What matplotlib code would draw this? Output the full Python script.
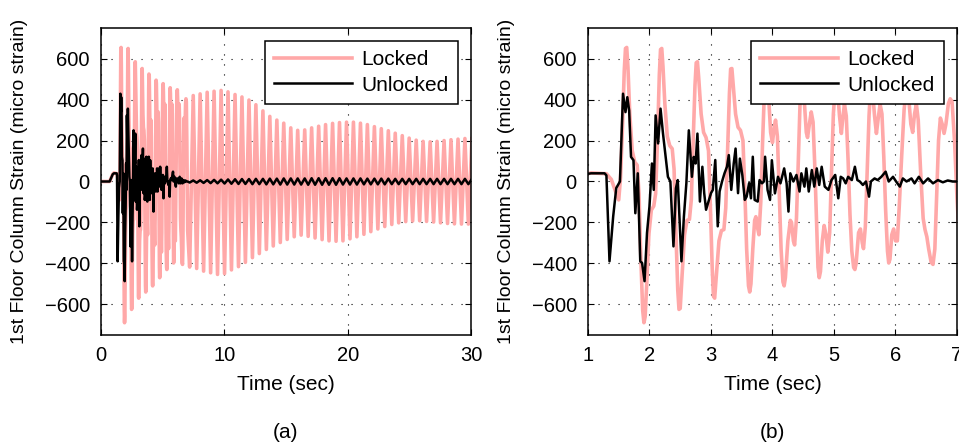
import numpy as np
import matplotlib
matplotlib.use("Agg")
from matplotlib import pyplot as plt

plt.rcParams['font.family'] = ['Liberation Sans', 'DejaVu Sans']

# locked response, detailed part: (time sec, micro strain)
locked_pts = [
    (0.0, 0), (0.7, 0), (0.95, 35), (1.05, 42), (1.30, 38), (1.38, 10), (1.45, -50),
    (1.50, -90), (1.53, 20), (1.56, 260), (1.59, 540), (1.61, 650), (1.63, 655),
    (1.65, 560), (1.68, 330), (1.72, 150), (1.76, 95), (1.80, 80), (1.83, -60),
    (1.86, -380), (1.89, -630), (1.91, -690), (1.93, -660), (1.96, -470), (1.99, -260),
    (2.03, -140), (2.07, -120), (2.10, -60), (2.13, 200), (2.16, 520), (2.18, 645),
    (2.20, 650), (2.22, 560), (2.25, 380), (2.29, 220), (2.33, 175), (2.37, 160),
    (2.40, 60), (2.43, -250), (2.46, -530), (2.48, -625), (2.50, -620), (2.53, -460),
    (2.57, -260), (2.61, -190), (2.65, -185), (2.68, -90), (2.71, 190), (2.74, 470),
    (2.76, 580), (2.78, 585), (2.80, 510), (2.84, 330), (2.88, 240), (2.92, 215),
    (2.96, 150), (2.99, -120), (3.02, -420), (3.04, -560), (3.06, -570), (3.09, -450),
    (3.13, -290), (3.17, -240), (3.21, -235), (3.24, -130), (3.27, 150), (3.30, 430),
    (3.32, 550), (3.34, 552), (3.36, 480), (3.40, 330), (3.44, 265), (3.48, 250),
    (3.52, 200), (3.55, -40), (3.58, -330), (3.61, -510), (3.63, -540), (3.65, -500),
    (3.68, -330), (3.71, -190), (3.73, -172), (3.76, -230), (3.78, -260), (3.81, -100),
    (3.84, 200), (3.87, 450), (3.89, 525), (3.91, 520), (3.94, 400), (3.97, 240),
    (4.00, 190), (4.03, 270), (4.05, 300), (4.08, 220), (4.11, -50), (4.14, -330),
    (4.17, -490), (4.19, -510), (4.21, -470), (4.25, -290), (4.29, -190), (4.31, -200),
    (4.34, -290), (4.36, -310), (4.39, -180), (4.42, 100), (4.45, 400), (4.47, 495),
    (4.49, 480), (4.52, 380), (4.55, 240), (4.57, 215), (4.60, 280), (4.63, 340),
    (4.66, 290), (4.69, 60), (4.72, -230), (4.74, -420), (4.76, -470), (4.78, -440),
    (4.81, -290), (4.84, -215), (4.87, -260), (4.90, -345), (4.93, -250), (4.96, 50),
    (4.99, 330), (5.02, 460), (5.04, 478), (5.06, 440), (5.09, 320), (5.12, 235),
    (5.14, 300), (5.17, 378), (5.20, 320), (5.23, 100), (5.26, -160), (5.29, -340),
    (5.32, -420), (5.34, -430), (5.36, -400), (5.40, -250), (5.43, -232), (5.46, -300),
    (5.48, -328), (5.51, -220), (5.54, 50), (5.57, 320), (5.59, 430), (5.61, 458),
    (5.63, 430), (5.66, 320), (5.69, 235), (5.72, 310), (5.75, 378), (5.78, 330),
    (5.81, 120), (5.84, -140), (5.87, -340), (5.89, -398), (5.91, -380), (5.94, -260),
    (5.97, -232), (6.00, -290), (6.03, -290), (6.06, -130), (6.10, 120), (6.14, 350),
    (6.17, 440), (6.19, 448), (6.22, 390), (6.25, 280), (6.28, 240), (6.31, 330),
    (6.34, 378), (6.37, 300), (6.41, 40), (6.45, -180), (6.48, -235), (6.51, -270),
    (6.54, -330), (6.58, -395), (6.61, -405), (6.64, -330), (6.67, -60), (6.70, 200),
    (6.73, 310), (6.76, 280), (6.79, 235), (6.82, 280), (6.86, 380), (6.89, 404),
    (6.92, 390), (6.96, 200), (7.00, -80), (7.03, -240),
]

# unlocked response, detailed part
unlocked_pts = [
    (0.0, 0), (0.7, 0), (0.95, 35), (1.05, 40), (1.27, 40), (1.30, 30), (1.35, -390),
    (1.41, -171), (1.46, -32), (1.52, 0), (1.57, 429), (1.61, 339), (1.64, 412),
    (1.67, 346), (1.70, 120), (1.74, 104), (1.77, -155), (1.81, 40), (1.85, -390),
    (1.88, -398), (1.92, -487), (1.96, -251), (2.00, -122), (2.04, 88), (2.07, -41),
    (2.10, 323), (2.14, 186), (2.18, 356), (2.22, 234), (2.30, 23), (2.34, 0),
    (2.39, -317), (2.43, -33), (2.46, 7), (2.52, -390), (2.56, -171), (2.60, -8),
    (2.64, 250), (2.69, 23), (2.72, 120), (2.75, 88), (2.78, 234), (2.82, -98),
    (2.86, 72), (2.89, -57), (2.92, -138), (2.96, -98), (3.00, -57), (3.03, -41),
    (3.07, 105), (3.11, -219), (3.14, -49), (3.18, 0), (3.22, 40), (3.26, 72),
    (3.29, 129), (3.33, -41), (3.37, 88), (3.40, 161), (3.44, -57), (3.47, 112),
    (3.51, 31), (3.55, -90), (3.58, -74), (3.62, -8), (3.65, -82), (3.68, 121),
    (3.71, -90), (3.76, -98), (3.79, 7), (3.83, -9), (3.86, 0), (3.88, 121),
    (3.92, -41), (3.96, -90), (3.99, 104), (4.04, -58), (4.09, 23), (4.13, -9),
    (4.19, 64), (4.23, -9), (4.26, -147), (4.29, 40), (4.34, 0), (4.39, 32),
    (4.44, -49), (4.47, 40), (4.52, -25), (4.55, 64), (4.59, -49), (4.64, 56),
    (4.68, -25), (4.72, 64), (4.76, -17), (4.80, 72), (4.85, -25), (4.91, -41),
    (4.96, 7), (5.02, 32), (5.07, -82), (5.11, 23), (5.15, 15), (5.19, -9),
    (5.23, 23), (5.29, 7), (5.34, 72), (5.38, 7), (5.42, 0), (5.47, -17),
    (5.52, 0), (5.57, -74), (5.60, 0), (5.66, 15), (5.71, 7), (5.77, 23),
    (5.84, 48), (5.89, 0), (5.96, 23), (6.01, 0), (6.07, -25), (6.12, 15),
    (6.18, 0), (6.26, 15), (6.31, -9), (6.38, 23), (6.45, -9), (6.53, 15),
    (6.61, -9), (6.69, 7), (6.77, -4), (6.85, 5), (6.93, 0), (7.02, 0),
]

# after 7 s: times of successive troughs / peaks
late_t = [
    7.19, 7.48, 7.76, 8.04, 8.32, 8.61, 8.89, 9.17, 9.45, 9.74,
    10.02, 10.30, 10.58, 10.87, 11.15, 11.43, 11.71, 12.00, 12.28, 12.56,
    12.84, 13.13, 13.41, 13.69, 13.97, 14.26, 14.54, 14.82, 15.10, 15.39,
    15.67, 15.95, 16.23, 16.52, 16.80, 17.08, 17.36, 17.65, 17.93, 18.21,
    18.49, 18.78, 19.06, 19.34, 19.62, 19.91, 20.19, 20.47, 20.75, 21.04,
    21.32, 21.60, 21.88, 22.17, 22.45, 22.73, 23.01, 23.30, 23.58, 23.86,
    24.14, 24.43, 24.71, 24.99, 25.27, 25.56, 25.84, 26.12, 26.40, 26.69,
    26.97, 27.25, 27.53, 27.82, 28.10, 28.38, 28.66, 28.95, 29.23, 29.51,
    29.79, 30.08,
]
locked_late = [
    -418, 420, -425, 428, -438, 436, -446, 441, -454, 445,
    -450, 438, -432, 425, -416, 413, -395, 398, -372, 375,
    -352, 345, -332, 318, -315, 300, -298, 285, -283, 262,
    -270, 250, -262, 252, -268, 262, -276, 270, -284, 278,
    -290, 284, -292, 288, -290, 290, -280, 290, -270, 285,
    -258, 278, -245, 268, -232, 258, -220, 248, -210, 236,
    -202, 224, -196, 212, -193, 202, -192, 196, -195, 194,
    -198, 196, -202, 200, -205, 204, -207, 207, -208, 210,
    -208, 210,
]
unlocked_late = [
    -5, 5, -6, 6, -7, 7, -8, 8, -9, 9,
    -10, 10, -11, 11, -12, 12, -12, 12, -13, 13,
    -13, 13, -14, 14, -14, 14, -15, 15, -15, 15,
    -15, 15, -15, 15, -16, 16, -16, 16, -16, 16,
    -16, 16, -16, 16, -15, 15, -15, 15, -15, 15,
    -14, 14, -14, 14, -14, 14, -14, 14, -13, 13,
    -13, 13, -13, 13, -13, 13, -13, 13, -13, 13,
    -13, 13, -13, 13, -13, 13, -13, 13, -13, 13,
    -13, 13,
]

lt, lv = np.array(locked_pts).T
ut, uv = np.array(unlocked_pts).T
t_locked = np.concatenate([lt, late_t])
v_locked = np.concatenate([lv, locked_late])
t_unlocked = np.concatenate([ut, late_t])
v_unlocked = np.concatenate([uv, unlocked_late])

pink = '#ffa8a8'
fs_tick = 14.5
fs_lab = 15

fig = plt.figure(figsize=(9.59, 4.46), dpi=100)
ax_a = fig.add_axes([0.1053, 0.2489, 0.3858, 0.6883])
ax_b = fig.add_axes([0.6131, 0.2489, 0.3848, 0.6883])

for ax, xlim, xticks, lab in [(ax_a, (0, 30), [0, 10, 20, 30], '(a)'),
                              (ax_b, (1, 7), [1, 2, 3, 4, 5, 6, 7], '(b)')]:
    ax.plot(t_locked, v_locked, color=pink, lw=2.6, label='Locked', zorder=2,
            solid_joinstyle='round')
    ax.plot(t_unlocked, v_unlocked, color='black', lw=1.8, label='Unlocked', zorder=3,
            solid_joinstyle='round')
    ax.set_xlim(*xlim)
    ax.set_ylim(-750, 750)
    ax.set_xticks(xticks)
    ax.set_yticks([-600, -400, -200, 0, 200, 400, 600])
    ax.grid(True, color='black', linestyle=(0, (1, 8)), linewidth=0.8)
    ax.tick_params(direction='in', top=True, right=True, length=4, width=0.8,
                   labelsize=fs_tick, pad=8)
    for s in ax.spines.values():
        s.set_linewidth(1.1)
    ax.set_xlabel('Time (sec)', fontsize=fs_lab, labelpad=7)
    ax.set_ylabel('1st Floor Column Strain (micro strain)', fontsize=14, labelpad=12)
    leg = ax.legend(loc='upper right', fontsize=fs_lab, handlelength=3.75,
                    borderaxespad=0.62, fancybox=False, framealpha=1,
                    edgecolor='black', labelspacing=0.3, borderpad=0.45,
                    handletextpad=0.45)
    leg.get_frame().set_linewidth(1.1)
    pos = ax.get_position()
    fig.text(pos.x0 + pos.width / 2, 0.03, lab, ha='center', va='center', fontsize=fs_lab)

fig.savefig('out.png', dpi=100)
